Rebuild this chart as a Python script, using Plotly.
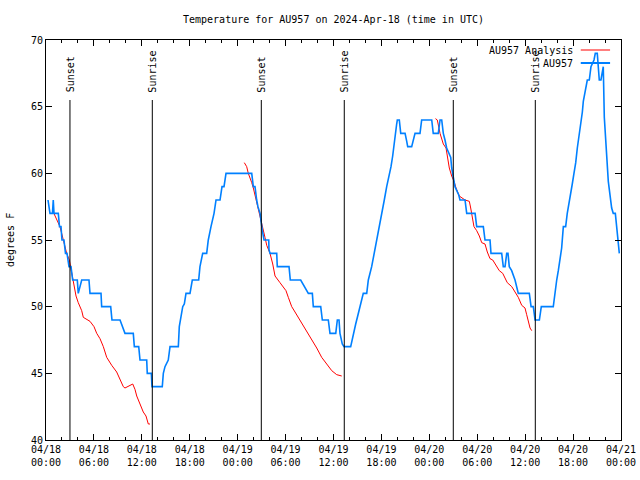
import pandas as pd
import plotly.graph_objects as go

START = pd.Timestamp("2024-04-18 00:00")

# Observations (AU957): hours since 04/18 00:00 UTC, temperature F
obs_hours = [0.25, 0.50, 0.81, 0.91, 1.00, 1.54, 1.69, 1.88, 2.00, 2.25, 2.44, 2.63, 2.88, 3.13, 3.34,
             3.92, 4.04, 4.47, 5.38, 5.51, 6.89, 6.97, 8.10, 8.26, 9.27, 9.60, 9.89, 10.93, 11.06,
             11.61, 11.77, 12.61, 12.68, 12.93, 13.19, 13.27, 14.56, 14.69, 14.90, 15.31, 15.53,
             16.57, 16.69, 17.12, 17.32, 17.53, 18.03, 18.32, 19.12, 19.28, 19.62, 20.12, 20.32,
             20.66, 21.04, 21.29, 21.79, 22.04, 22.29, 22.54, 25.76, 25.96, 26.17, 26.38, 26.54,
             26.80, 26.92, 27.09, 27.30, 27.89, 27.92, 28.05, 28.89, 28.96, 30.43, 30.59, 31.89,
             32.85, 33.35, 33.47, 34.40, 34.60, 35.35, 35.56, 36.28, 36.48, 36.69, 36.81, 37.10,
             37.32, 38.15, 38.48, 38.78, 39.03, 39.32, 39.73, 40.16, 40.36, 40.78, 41.11, 41.41,
             41.61, 41.82, 42.04, 42.24, 42.36, 42.66, 42.95, 43.20, 43.41, 43.58, 43.70, 43.91,
             43.99, 44.24, 44.42, 44.96, 45.17, 45.29, 45.79, 46.00, 46.21, 46.83, 47.04, 48.30,
             48.49, 49.12, 49.34, 49.55, 49.75, 49.96, 50.17, 50.68, 50.80, 51.21, 51.67, 51.84,
             52.47, 52.68, 53.73, 53.93, 54.76, 54.97, 55.60, 55.72, 57.06, 57.26, 57.48, 57.69,
             57.85, 58.01, 58.31, 58.73, 58.93, 59.14, 60.52, 60.74, 61.02, 61.24, 61.78, 62.02,
             63.52, 63.73, 63.95, 64.15, 64.36, 64.57, 64.78, 65.07, 65.27, 65.49, 65.70, 65.90,
             66.11, 66.33, 66.53, 66.74, 66.95, 67.16, 67.28, 67.49, 67.78, 68.03, 68.24, 68.62,
             68.78, 69.03, 69.15, 69.28, 69.49, 69.61, 69.78, 69.91, 70.12, 70.28, 70.41, 70.83,
             71.03, 71.29, 71.46, 71.59, 71.79]
obs_temp = [58, 57, 57, 58, 57, 57, 56, 56, 55, 55, 54, 54, 53, 53, 52,
            52, 51, 52, 52, 51, 51, 50, 50, 49, 49, 48.5, 48, 48, 47,
            47, 46, 46, 45, 45, 45, 44, 44, 45, 45.5, 46, 47,
            47, 48.5, 50, 50.2, 51, 51, 52, 52, 53, 54, 54, 55,
            56, 57, 58, 58, 59, 59, 60, 60, 59, 59, 58, 57.5,
            57, 56.3, 55.7, 55, 55, 54.3, 54, 54, 53, 53, 52, 52,
            51, 51, 50, 50, 49, 49, 48, 48, 49, 49, 48, 47.2,
            47, 47, 48, 48.7, 49.3, 50, 51, 51, 52, 53, 54, 55,
            55.5, 56.2, 57, 57.5, 58, 59, 59.7, 60.5, 61.3, 62.2, 63, 63.7,
            64, 64, 63, 63, 62.4, 62, 62, 62.5, 63, 63, 64, 64,
            63, 63, 64, 64, 63, 62.5, 61.9, 61.2, 60.4, 59, 58.4, 58,
            58, 57, 57, 56, 56, 55, 55, 54, 54, 53, 53, 54,
            54, 53, 52.7, 52, 51.5, 51, 51, 50, 50, 49, 49, 50,
            50, 51.2, 52, 52.7, 53.5, 54.4, 56, 56, 57, 57.7, 58.4, 59.2,
            60, 60.8, 61.9, 62.7, 63.7, 64.6, 65.4, 66.1, 67, 67, 68, 68.5,
            69, 69, 68.1, 67, 67, 67.6, 68, 64.2, 62.4, 61.2, 59.4, 57.4,
            57, 57, 55.7, 55.2, 54]

# Analysis runs (AU957 Analysis)
ana1_hours = [0.91, 1.75, 2.17, 2.59, 2.92, 3.22, 3.42, 3.76, 4.04, 4.47, 4.67, 5.51, 6.01, 6.35,
              6.76, 7.18, 7.60, 7.80, 8.23, 8.85, 9.27, 9.68, 9.89, 10.43, 10.86, 11.14, 11.36,
              11.77, 12.18, 12.52, 12.81, 13.02]
ana1_temp = [57.1, 56.0, 55.0, 54.0, 53.5, 52.5, 51.7, 50.8, 50.3, 49.7, 49.2, 48.9, 48.5, 48.0,
             47.6, 47.0, 46.2, 46.0, 45.6, 45.1, 44.6, 44.0, 43.9, 44.1, 44.2, 43.8, 43.3,
             42.7, 42.1, 41.8, 41.2, 41.2]
ana2_hours = [24.83, 25.13, 25.33, 25.54, 25.76, 25.96, 26.17, 26.38, 26.58, 26.80, 27.01, 27.21,
              27.42, 27.64, 28.05, 28.39, 28.68, 29.30, 29.71, 30.05, 30.34, 30.77, 31.18, 31.59,
              32.02, 32.64, 33.27, 33.90, 34.52, 35.15, 35.78, 36.40, 37.03]
ana2_temp = [60.8, 60.5, 60.0, 59.7, 59.3, 58.9, 58.4, 57.9, 57.4, 56.9, 56.4, 55.9,
             55.2, 54.6, 54.0, 53.2, 52.3, 51.8, 51.5, 51.2, 50.7, 50.0, 49.6, 49.2,
             48.7, 48.2, 47.5, 46.9, 46.2, 45.7, 45.2, 44.9, 44.8]
ana3_hours = [48.77, 49.00, 49.34, 49.75, 50.09, 50.25, 50.50, 50.80, 51.09, 51.34, 51.75, 52.47,
              53.01, 53.18, 53.43, 53.59, 53.93, 54.26, 54.56, 54.97, 55.26, 55.60, 55.94, 56.35,
              56.76, 57.19, 57.76, 58.32, 58.73, 59.14, 59.57, 59.98, 60.19, 60.39, 60.61, 60.82]
ana3_temp = [64.1, 64.0, 63.0, 62.2, 61.9, 61.3, 60.4, 59.8, 59.4, 58.9, 58.3, 58.0,
             57.9, 57.4, 56.7, 56.0, 55.7, 55.3, 54.8, 54.7, 54.1, 53.6, 53.5, 53.1,
             52.7, 52.5, 51.8, 51.5, 51.1, 50.7, 50.1, 49.9, 49.4, 48.9, 48.4, 48.2]

sun_hours = [3.00, 13.31, 26.96, 37.35, 51.00, 61.27]
sun_labels = ["Sunset", "Sunrise", "Sunset", "Sunrise", "Sunset", "Sunrise"]

tick_hours = [0, 6, 12, 18, 24, 30, 36, 42, 48, 54, 60, 66, 72]
tick_labels = ["04/18<br>00:00", "04/18<br>06:00", "04/18<br>12:00", "04/18<br>18:00",
               "04/19<br>00:00", "04/19<br>06:00", "04/19<br>12:00", "04/19<br>18:00",
               "04/20<br>00:00", "04/20<br>06:00", "04/20<br>12:00", "04/20<br>18:00",
               "04/21<br>00:00"]
y_ticks = [40, 45, 50, 55, 60, 65, 70]

RED = "#ff0000"
BLUE = "#0080ff"
FONT = "DejaVu Sans Mono"


def to_time(hours):
    return [None if h is None else START + pd.Timedelta(hours=h) for h in hours]


ana_hours = ana1_hours + [None] + ana2_hours + [None] + ana3_hours
ana_temp = ana1_temp + [None] + ana2_temp + [None] + ana3_temp

fig = go.Figure()
fig.add_trace(go.Scatter(x=to_time(ana_hours), y=ana_temp, mode="lines",
                         line=dict(color=RED, width=1), connectgaps=False,
                         name="AU957 Analysis", showlegend=False))
fig.add_trace(go.Scatter(x=to_time(obs_hours), y=obs_temp, mode="lines",
                         line=dict(color=BLUE, width=1.6),
                         name="AU957", showlegend=False))

for h, lab in zip(sun_hours, sun_labels):
    t = START + pd.Timedelta(hours=h)
    fig.add_shape(type="line", xref="x", yref="y", x0=t, x1=t, y0=65.5, y1=40,
                  line=dict(color="black", width=1), layer="above")
    fig.add_annotation(x=t, y=66.0, xref="x", yref="y", text=lab, showarrow=False,
                       textangle=-90, xanchor="center", yanchor="bottom",
                       font=dict(family=FONT, size=10, color="black"), borderpad=0)

# legend (text left of sample line, like the original)
legend_items = [("AU957 Analysis", RED, 1, 0.975), ("AU957", BLUE, 2, 0.9425)]
for txt, col, w, yy in legend_items:
    fig.add_annotation(x=0.918, y=yy, xref="paper", yref="paper", text=txt, showarrow=False,
                       xanchor="right", yanchor="middle",
                       font=dict(family=FONT, size=10, color="black"), borderpad=0)
    fig.add_shape(type="line", xref="paper", yref="paper", x0=0.930, x1=0.981, y0=yy, y1=yy,
                  line=dict(color=col, width=w))

fig.add_annotation(x=-0.0626, y=0.5, xref="paper", yref="paper", text="degrees F",
                   showarrow=False, textangle=-90, xanchor="center", yanchor="middle",
                   font=dict(family=FONT, size=10, color="black"))

fig.update_layout(
    width=640, height=480,
    margin=dict(l=46, r=19, t=40, b=40, autoexpand=False),
    paper_bgcolor="white", plot_bgcolor="white",
    font=dict(family=FONT, size=10, color="black"),
    title=dict(text="Temperature for AU957 on 2024-Apr-18 (time in UTC)",
               x=0.5, xref="paper", xanchor="center",
               y=1 - 19 / 480, yref="container", yanchor="middle",
               font=dict(family=FONT, size=10, color="black")),
    showlegend=False,
)
fig.update_xaxes(
    range=[START, START + pd.Timedelta(hours=72)], automargin=False,
    tickmode="array", tickvals=to_time(tick_hours), ticktext=tick_labels,
    ticks="inside", ticklen=6, tickcolor="black", tickwidth=1,
    showline=True, linecolor="black", linewidth=1, mirror="ticks",
    showgrid=False, zeroline=False,
    tickfont=dict(family=FONT, size=10, color="black"),
    minor=dict(tickmode="linear", tick0=START, dtick=2 * 3600 * 1000,
               ticks="inside", ticklen=3, tickcolor="black", showgrid=False),
)
fig.update_yaxes(
    range=[40, 70], automargin=False, tickmode="array", tickvals=y_ticks,
    ticktext=[str(v) for v in y_ticks],
    ticks="inside", ticklen=6, tickcolor="black", tickwidth=1,
    showline=True, linecolor="black", linewidth=1, mirror="ticks",
    showgrid=False, zeroline=False,
    tickfont=dict(family=FONT, size=10, color="black"),
)

fig.write_html("out.html")
